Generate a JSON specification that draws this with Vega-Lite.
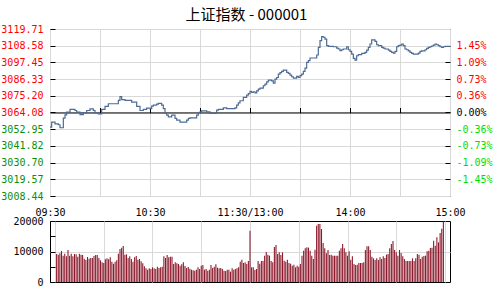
{
  "$schema": "https://vega.github.io/schema/vega-lite/v6.json",
  "padding": {"left": 0, "top": 7, "right": 0, "bottom": 0},
  "background": "white",
  "title": {"text": "上证指数 - 000001", "font": "Noto Sans CJK SC", "fontSize": 15, "fontWeight": "normal", "color": "black", "anchor": "middle", "offset": 1},
  "config": {
    "view": {"stroke": "black", "strokeWidth": 1},
    "axis": {"labelFont": "DejaVu Sans Mono", "labelFontSize": 10, "labelColor": "black", "title": null, "labelFlush": false, "labelOverlap": false, "labelBound": false, "gridColor": "#d9d9d9", "gridWidth": 1, "tickColor": "black", "domainColor": "black"}
  },
  "datasets": {
    "price": [
      {"m":0,"p":3054.3},{"m":1,"p":3057.6},{"m":2,"p":3057.6},{"m":3,"p":3056.5},{"m":4,"p":3056.5},{"m":5,"p":3055.9},{"m":6,"p":3053.9},{"m":7,"p":3053.9},{"m":8,"p":3060.3},{"m":9,"p":3062.5},
      {"m":10,"p":3064.3},{"m":11,"p":3064.3},{"m":12,"p":3066.1},{"m":13,"p":3066.1},{"m":14,"p":3066.1},{"m":15,"p":3065.4},{"m":16,"p":3064.3},{"m":17,"p":3064.3},{"m":18,"p":3062.7},{"m":19,"p":3062.7},
      {"m":20,"p":3063.9},{"m":21,"p":3063.9},{"m":22,"p":3065.4},{"m":23,"p":3065.4},{"m":24,"p":3066.5},{"m":25,"p":3066.5},{"m":26,"p":3065.4},{"m":27,"p":3063.9},{"m":28,"p":3063.9},{"m":29,"p":3063.2},
      {"m":30,"p":3063.2},{"m":31,"p":3066.1},{"m":32,"p":3066.1},{"m":33,"p":3068.1},{"m":34,"p":3068.1},{"m":35,"p":3069.9},{"m":36,"p":3069.9},{"m":37,"p":3069.9},{"m":38,"p":3069.9},{"m":39,"p":3069.9},
      {"m":40,"p":3069.9},{"m":41,"p":3072.1},{"m":42,"p":3074.7},{"m":43,"p":3072.7},{"m":44,"p":3072.7},{"m":45,"p":3072.1},{"m":46,"p":3072.1},{"m":47,"p":3072.1},{"m":48,"p":3072.1},{"m":49,"p":3071.0},
      {"m":50,"p":3071.0},{"m":51,"p":3071.0},{"m":52,"p":3068.1},{"m":53,"p":3068.1},{"m":54,"p":3065.4},{"m":55,"p":3065.4},{"m":56,"p":3066.1},{"m":57,"p":3066.1},{"m":58,"p":3067.0},{"m":59,"p":3067.0},
      {"m":60,"p":3066.7},{"m":61,"p":3068.3},{"m":62,"p":3069.0},{"m":63,"p":3069.0},{"m":64,"p":3069.6},{"m":65,"p":3070.1},{"m":66,"p":3070.1},{"m":67,"p":3069.0},{"m":68,"p":3066.7},{"m":69,"p":3063.4},
      {"m":70,"p":3062.3},{"m":71,"p":3061.2},{"m":72,"p":3061.2},{"m":73,"p":3062.3},{"m":74,"p":3062.3},{"m":75,"p":3060.1},{"m":76,"p":3059.0},{"m":77,"p":3059.0},{"m":78,"p":3057.6},{"m":79,"p":3057.6},
      {"m":80,"p":3057.6},{"m":81,"p":3057.6},{"m":82,"p":3059.0},{"m":83,"p":3060.1},{"m":84,"p":3060.5},{"m":85,"p":3060.5},{"m":86,"p":3060.5},{"m":87,"p":3060.5},{"m":88,"p":3062.3},{"m":89,"p":3063.9},
      {"m":90,"p":3064.5},{"m":91,"p":3065.2},{"m":92,"p":3065.2},{"m":93,"p":3065.2},{"m":94,"p":3064.5},{"m":95,"p":3064.5},{"m":96,"p":3063.4},{"m":97,"p":3063.4},{"m":98,"p":3063.4},{"m":99,"p":3063.4},
      {"m":100,"p":3065.6},{"m":101,"p":3066.1},{"m":102,"p":3066.1},{"m":103,"p":3066.1},{"m":104,"p":3067.2},{"m":105,"p":3067.2},{"m":106,"p":3066.7},{"m":107,"p":3066.7},{"m":108,"p":3066.7},{"m":109,"p":3066.7},
      {"m":110,"p":3066.7},{"m":111,"p":3067.2},{"m":112,"p":3069.0},{"m":113,"p":3070.5},{"m":114,"p":3071.9},{"m":115,"p":3071.9},{"m":116,"p":3074.1},{"m":117,"p":3074.1},{"m":118,"p":3075.6},{"m":119,"p":3076.7},
      {"m":120,"p":3078.1},{"m":121,"p":3077.4},{"m":122,"p":3077.9},{"m":123,"p":3077.2},{"m":124,"p":3078.5},{"m":125,"p":3079.7},{"m":126,"p":3080.3},{"m":127,"p":3080.3},{"m":128,"p":3081.9},{"m":129,"p":3083.0},
      {"m":130,"p":3084.5},{"m":131,"p":3085.7},{"m":132,"p":3085.7},{"m":133,"p":3085.2},{"m":134,"p":3083.7},{"m":135,"p":3086.3},{"m":136,"p":3087.4},{"m":137,"p":3089.7},{"m":138,"p":3090.6},{"m":139,"p":3091.5},
      {"m":140,"p":3092.3},{"m":141,"p":3092.3},{"m":142,"p":3090.8},{"m":143,"p":3090.1},{"m":144,"p":3089.0},{"m":145,"p":3087.9},{"m":146,"p":3087.0},{"m":147,"p":3087.0},{"m":148,"p":3088.1},{"m":149,"p":3087.4},
      {"m":150,"p":3088.6},{"m":151,"p":3089.7},{"m":152,"p":3091.5},{"m":153,"p":3093.7},{"m":154,"p":3097.5},{"m":155,"p":3098.6},{"m":156,"p":3100.4},{"m":157,"p":3100.4},{"m":158,"p":3100.4},{"m":159,"p":3100.4},
      {"m":160,"p":3102.4},{"m":161,"p":3107.5},{"m":162,"p":3111.9},{"m":163,"p":3114.6},{"m":164,"p":3114.2},{"m":165,"p":3113.0},{"m":166,"p":3108.6},{"m":167,"p":3108.1},{"m":168,"p":3108.1},{"m":169,"p":3108.1},
      {"m":170,"p":3107.9},{"m":171,"p":3107.9},{"m":172,"p":3107.0},{"m":173,"p":3106.4},{"m":174,"p":3105.3},{"m":175,"p":3105.9},{"m":176,"p":3106.4},{"m":177,"p":3106.4},{"m":178,"p":3107.9},{"m":179,"p":3105.9},
      {"m":180,"p":3104.8},{"m":181,"p":3103.0},{"m":182,"p":3100.1},{"m":183,"p":3099.0},{"m":184,"p":3101.9},{"m":185,"p":3102.6},{"m":186,"p":3102.6},{"m":187,"p":3103.5},{"m":188,"p":3103.5},{"m":189,"p":3104.1},
      {"m":190,"p":3105.7},{"m":191,"p":3107.5},{"m":192,"p":3109.7},{"m":193,"p":3112.4},{"m":194,"p":3112.4},{"m":195,"p":3111.5},{"m":196,"p":3109.2},{"m":197,"p":3108.6},{"m":198,"p":3108.6},{"m":199,"p":3107.5},
      {"m":200,"p":3107.0},{"m":201,"p":3106.4},{"m":202,"p":3106.4},{"m":203,"p":3105.7},{"m":204,"p":3104.8},{"m":205,"p":3104.1},{"m":206,"p":3103.7},{"m":207,"p":3104.8},{"m":208,"p":3107.9},{"m":209,"p":3108.6},
      {"m":210,"p":3109.0},{"m":211,"p":3109.7},{"m":212,"p":3108.6},{"m":213,"p":3106.4},{"m":214,"p":3105.9},{"m":215,"p":3105.2},{"m":216,"p":3104.1},{"m":217,"p":3103.5},{"m":218,"p":3103.0},{"m":219,"p":3103.0},
      {"m":220,"p":3103.0},{"m":221,"p":3103.7},{"m":222,"p":3104.8},{"m":223,"p":3105.2},{"m":224,"p":3105.2},{"m":225,"p":3105.9},{"m":226,"p":3106.8},{"m":227,"p":3107.5},{"m":228,"p":3107.9},{"m":229,"p":3108.4},
      {"m":230,"p":3109.0},{"m":231,"p":3109.7},{"m":232,"p":3109.2},{"m":233,"p":3108.6},{"m":234,"p":3107.9},{"m":235,"p":3107.5},{"m":236,"p":3107.9},{"m":237,"p":3108.1},{"m":238,"p":3108.1},{"m":239,"p":3108.1},
      {"m":240,"p":3108.1}
    ],
    "vol": [
      {"m":1,"v":9180},{"m":2,"v":8960},{"m":3,"v":9400},{"m":4,"v":10170},{"m":5,"v":8640},{"m":6,"v":9290},{"m":7,"v":8420},{"m":8,"v":10490},{"m":9,"v":8640},{"m":10,"v":9290},
      {"m":11,"v":8420},{"m":12,"v":9180},{"m":13,"v":9070},{"m":14,"v":8310},{"m":15,"v":9290},{"m":16,"v":8960},{"m":17,"v":8850},{"m":18,"v":7650},{"m":19,"v":7210},{"m":20,"v":8200},
      {"m":21,"v":7650},{"m":22,"v":7870},{"m":23,"v":7870},{"m":24,"v":8530},{"m":25,"v":8850},{"m":26,"v":8850},{"m":27,"v":7870},{"m":28,"v":7100},{"m":29,"v":6450},{"m":30,"v":6230},
      {"m":31,"v":7430},{"m":32,"v":7760},{"m":33,"v":7430},{"m":34,"v":8090},{"m":35,"v":6670},{"m":36,"v":6010},{"m":37,"v":6670},{"m":38,"v":7100},{"m":39,"v":9290},{"m":40,"v":10820},
      {"m":41,"v":11260},{"m":42,"v":11800},{"m":43,"v":8960},{"m":44,"v":9070},{"m":45,"v":7870},{"m":46,"v":8420},{"m":47,"v":7540},{"m":48,"v":6670},{"m":49,"v":8090},{"m":50,"v":8530},
      {"m":51,"v":7320},{"m":52,"v":7540},{"m":53,"v":6780},{"m":54,"v":6120},{"m":55,"v":5140},{"m":56,"v":4480},{"m":57,"v":4040},{"m":58,"v":4480},{"m":59,"v":4260},{"m":60,"v":4810},
      {"m":61,"v":4480},{"m":62,"v":4260},{"m":63,"v":5030},{"m":64,"v":4590},{"m":65,"v":4810},{"m":66,"v":5030},{"m":67,"v":8420},{"m":68,"v":7870},{"m":69,"v":8850},{"m":70,"v":8090},
      {"m":71,"v":8310},{"m":72,"v":8310},{"m":73,"v":5900},{"m":74,"v":6450},{"m":75,"v":6120},{"m":76,"v":5900},{"m":77,"v":5360},{"m":78,"v":5790},{"m":79,"v":6450},{"m":80,"v":5250},
      {"m":81,"v":4590},{"m":82,"v":4920},{"m":83,"v":4370},{"m":84,"v":4040},{"m":85,"v":3830},{"m":86,"v":3720},{"m":87,"v":4040},{"m":88,"v":4810},{"m":89,"v":4260},{"m":90,"v":5360},
      {"m":91,"v":5580},{"m":92,"v":4040},{"m":93,"v":4260},{"m":94,"v":3720},{"m":95,"v":4040},{"m":96,"v":5580},{"m":97,"v":4590},{"m":98,"v":5030},{"m":99,"v":5790},{"m":100,"v":4700},
      {"m":101,"v":4480},{"m":102,"v":4590},{"m":103,"v":4260},{"m":104,"v":3720},{"m":105,"v":3610},{"m":106,"v":4040},{"m":107,"v":4040},{"m":108,"v":3390},{"m":109,"v":4480},{"m":110,"v":4040},
      {"m":111,"v":4260},{"m":112,"v":4480},{"m":113,"v":4810},{"m":114,"v":6670},{"m":115,"v":7320},{"m":116,"v":6230},{"m":117,"v":6450},{"m":118,"v":5900},{"m":119,"v":6890},{"m":120,"v":16830},
      {"m":121,"v":4810},{"m":122,"v":4810},{"m":123,"v":3940},{"m":124,"v":4260},{"m":125,"v":6890},{"m":126,"v":6010},{"m":127,"v":6890},{"m":128,"v":6890},{"m":129,"v":8640},{"m":130,"v":9840},
      {"m":131,"v":8960},{"m":132,"v":8640},{"m":133,"v":6890},{"m":134,"v":6450},{"m":135,"v":11480},{"m":136,"v":12130},{"m":137,"v":9180},{"m":138,"v":9730},{"m":139,"v":8850},{"m":140,"v":9730},
      {"m":141,"v":7000},{"m":142,"v":6670},{"m":143,"v":7320},{"m":144,"v":6230},{"m":145,"v":6010},{"m":146,"v":5360},{"m":147,"v":5680},{"m":148,"v":4810},{"m":149,"v":5360},{"m":150,"v":5030},
      {"m":151,"v":5900},{"m":152,"v":8640},{"m":153,"v":10270},{"m":154,"v":11040},{"m":155,"v":11370},{"m":156,"v":11260},{"m":157,"v":10270},{"m":158,"v":8640},{"m":159,"v":7540},{"m":160,"v":10600},
      {"m":161,"v":18470},{"m":162,"v":19020},{"m":163,"v":19020},{"m":164,"v":17380},{"m":165,"v":12790},{"m":166,"v":11040},{"m":167,"v":9400},{"m":168,"v":10490},{"m":169,"v":8850},{"m":170,"v":8960},
      {"m":171,"v":8640},{"m":172,"v":8640},{"m":173,"v":8640},{"m":174,"v":8640},{"m":175,"v":10270},{"m":176,"v":11040},{"m":177,"v":12460},{"m":178,"v":11040},{"m":179,"v":9730},{"m":180,"v":8640},
      {"m":181,"v":10060},{"m":182,"v":7320},{"m":183,"v":8420},{"m":184,"v":5900},{"m":185,"v":5580},{"m":186,"v":5680},{"m":187,"v":6230},{"m":188,"v":6230},{"m":189,"v":6230},{"m":190,"v":6450},
      {"m":191,"v":10490},{"m":192,"v":11700},{"m":193,"v":11700},{"m":194,"v":10490},{"m":195,"v":8310},{"m":196,"v":7760},{"m":197,"v":7210},{"m":198,"v":7760},{"m":199,"v":7210},{"m":200,"v":8090},
      {"m":201,"v":7540},{"m":202,"v":8420},{"m":203,"v":7870},{"m":204,"v":8960},{"m":205,"v":9180},{"m":206,"v":11040},{"m":207,"v":12460},{"m":208,"v":13440},{"m":209,"v":10490},{"m":210,"v":9730},
      {"m":211,"v":8640},{"m":212,"v":10490},{"m":213,"v":9510},{"m":214,"v":8420},{"m":215,"v":7540},{"m":216,"v":6890},{"m":217,"v":6890},{"m":218,"v":6890},{"m":219,"v":6890},{"m":220,"v":7760},
      {"m":221,"v":6890},{"m":222,"v":7760},{"m":223,"v":9180},{"m":224,"v":8960},{"m":225,"v":7540},{"m":226,"v":8310},{"m":227,"v":8530},{"m":228,"v":8640},{"m":229,"v":10060},{"m":230,"v":10270},
      {"m":231,"v":11150},{"m":232,"v":11260},{"m":233,"v":13550},{"m":234,"v":11910},{"m":235,"v":14650},{"m":236,"v":13000},{"m":237,"v":16070},{"m":238,"v":17500},{"m":239,"v":19800}
    ]
  },
  "spacing": 25,
  "bounds": "flush",
  "vconcat": [
    {
      "width": 400,
      "height": 167,
      "data": {"name": "price"},
      "layer": [
        {
          "mark": {"type": "line", "interpolate": "step-after", "color": "#4d6b94", "strokeWidth": 1.2},
          "encoding": {
            "x": {"field": "m", "type": "quantitative", "scale": {"domain": [0, 240], "nice": false, "zero": false},
              "axis": {"orient": "bottom", "values": [0, 30, 60, 90, 120, 150, 180, 210, 240],
                "labelExpr": "datum.value === 0 ? '09:30' : datum.value === 60 ? '10:30' : datum.value === 120 ? '11:30/13:00' : datum.value === 180 ? '14:00' : datum.value === 240 ? '15:00' : ''",
                "grid": true, "ticks": false, "domain": false, "labelPadding": 11}},
            "y": {"field": "p", "type": "quantitative", "scale": {"domain": [3008.44, 3119.71], "nice": false, "zero": false},
              "axis": {"orient": "left", "values": [3008.44, 3019.57, 3030.70, 3041.82, 3052.95, 3064.08, 3075.20, 3086.33, 3097.45, 3108.58, 3119.71],
                "format": ".2f", "grid": true, "domain": false, "ticks": true, "tickSize": -5, "labelPadding": 12,
                "labelColor": {"condition": {"test": "datum.value >= 3064", "value": "#ff0000"}, "value": "#0a8f0a"}}}
          }
        },
        {
          "mark": {"type": "line", "interpolate": "step-after", "opacity": 0},
          "encoding": {
            "x": {"field": "m", "type": "quantitative", "scale": {"domain": [0, 240], "nice": false, "zero": false},
              "axis": {"orient": "bottom", "offset": -83.5, "values": [30, 60, 90, 120, 150, 180, 210], "labels": false, "grid": false, "domain": true, "domainColor": "black", "ticks": true, "tickSize": -5}},
            "y": {"field": "p", "type": "quantitative", "scale": {"domain": [3008.44, 3119.71], "nice": false, "zero": false},
              "axis": {"orient": "right", "values": [3019.57, 3030.70, 3041.82, 3052.95, 3064.08, 3075.20, 3086.33, 3097.45, 3108.58],
                "labelExpr": "(datum.value < 3064 ? '-' : '') + format(abs((datum.value - 3064.08) / 3064.08 * 100), '.2f') + '%'",
                "grid": false, "domain": false, "ticks": true, "tickSize": -5, "labelPadding": 11,
                "labelColor": {"condition": [{"test": "datum.value > 3064.1", "value": "#ff0000"}, {"test": "datum.value < 3064", "value": "#00e000"}], "value": "#000000"}}}
          }
        }
      ],
      "resolve": {"axis": {"x": "independent", "y": "independent"}}
    },
    {
      "width": 400,
      "height": 61,
      "data": {"name": "vol"},
      "mark": {"type": "bar", "color": "#8c1a2c", "width": 1.1},
      "encoding": {
        "x": {"field": "m", "type": "quantitative", "scale": {"domain": [0, 240], "nice": false, "zero": false},
          "axis": {"values": [0, 30, 60, 90, 120, 150, 180, 210, 240], "labels": false, "grid": true, "ticks": false, "domain": false}},
        "y": {"field": "v", "type": "quantitative", "scale": {"domain": [0, 20000], "nice": false},
          "axis": {"values": [0, 5000, 10000, 15000, 20000], "labelExpr": "datum.value % 10000 === 0 ? format(datum.value, 'd') : ''",
            "grid": true, "gridOpacity": {"condition": {"test": "datum.value === 10000", "value": 1}, "value": 0},
            "domain": false, "ticks": true, "tickSize": -5, "labelPadding": 12}}
      }
    }
  ]
}
